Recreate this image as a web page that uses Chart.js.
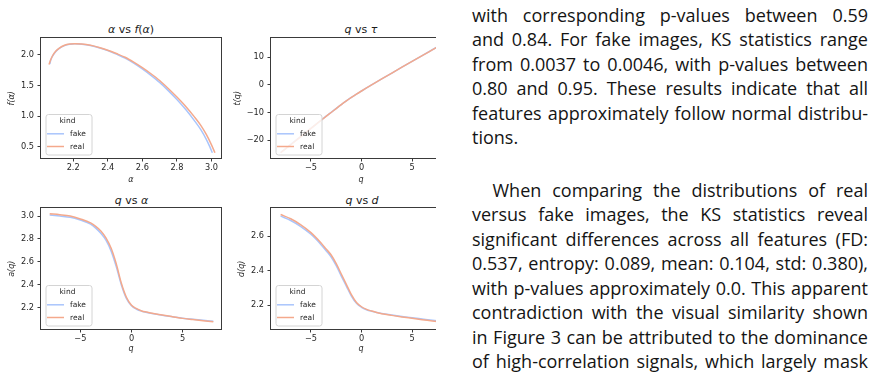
<!DOCTYPE html>
<html><head><meta charset="utf-8">
<script src="https://cdn.jsdelivr.net/npm/chart.js@4.4.0/dist/chart.umd.min.js"></script>
<style>
html,body{margin:0;padding:0;background:#fff;}
body{width:878px;height:377px;position:relative;overflow:hidden;}
#fig{position:absolute;left:0;top:0;width:436px;height:377px;overflow:hidden;}
.pc{position:absolute;}
.pc canvas{display:block;}
.ttl{position:absolute;font-family:"DejaVu Sans";font-size:11px;color:#1a1a1a;white-space:nowrap;transform:translate(-50%,-50%);line-height:1;}
.ttl i{font-style:italic;}
#txt{position:absolute;left:472px;top:0;width:396px;height:377px;font-family:"Open Sans";font-size:18px;color:#141414;}
.ln{position:absolute;left:0;width:396px;height:24.5px;line-height:24.5px;white-space:nowrap;}
.ln.j{display:flex;justify-content:space-between;}
</style>
</head><body>
<div id="fig">
  <div class="ttl" style="left:131px;top:29.3px"><i>α</i> vs <i>f</i>(<i>α</i>)</div>
  <div class="ttl" style="left:361px;top:29.3px"><i>q</i> vs <i>τ</i></div>
  <div class="ttl" style="left:131.5px;top:200px"><i>q</i> vs <i>α</i></div>
  <div class="ttl" style="left:362px;top:200px"><i>q</i> vs <i>d</i></div>
  <div class="pc" id="c1"><canvas id="k1"></canvas></div>
  <div class="pc" id="c2"><canvas id="k2"></canvas></div>
  <div class="pc" id="c3"><canvas id="k3"></canvas></div>
  <div class="pc" id="c4"><canvas id="k4"></canvas></div>
</div>
<div id="txt"></div>
<script>
// ---------- data ----------
const kinds = ['fake', 'real'];
const legendTitle = 'kind';

// Panel 1: alpha vs f(alpha)
const specAlphaFake = [2.065, 2.07, 2.08, 2.10, 2.12, 2.15, 2.18, 2.21, 2.25, 2.30, 2.35, 2.40, 2.45, 2.50, 2.55, 2.60, 2.65, 2.70, 2.75, 2.80, 2.85, 2.90, 2.94, 2.97, 2.99, 3.005];
const specFFake     = [1.85, 1.91, 1.975, 2.055, 2.105, 2.15, 2.172, 2.178, 2.172, 2.15, 2.115, 2.07, 2.01, 1.945, 1.865, 1.77, 1.665, 1.55, 1.415, 1.27, 1.11, 0.93, 0.77, 0.62, 0.50, 0.40];
const specAlphaReal = [2.06, 2.07, 2.08, 2.10, 2.12, 2.15, 2.18, 2.21, 2.25, 2.30, 2.35, 2.40, 2.45, 2.50, 2.55, 2.60, 2.65, 2.70, 2.75, 2.80, 2.85, 2.90, 2.94, 2.97, 3.00, 3.02];
const specFReal     = [1.84, 1.92, 1.98, 2.06, 2.11, 2.155, 2.175, 2.18, 2.175, 2.155, 2.12, 2.075, 2.02, 1.96, 1.88, 1.79, 1.69, 1.58, 1.45, 1.31, 1.16, 0.99, 0.84, 0.70, 0.53, 0.40];

// Panels 2-4: q grid
const qValues   = [-8, -7, -6, -5, -4, -3.5, -3, -2.5, -2, -1.5, -1, -0.5, 0, 0.5, 1, 1.5, 2, 3, 4, 5, 6, 7, 8];
const tauFake   = [-24.4, -21.5, -18.6, -15.7, -12.75, -11.3, -9.9, -8.5, -7.1, -5.78, -4.5, -3.31, -2.19, -1.09, 0.0, 1.08, 2.15, 4.28, 6.4, 8.51, 10.61, 12.7, 14.77];
const tauReal   = [-24.5, -21.6, -18.66, -15.7, -12.8, -11.36, -9.96, -8.54, -7.14, -5.8, -4.52, -3.32, -2.19, -1.09, 0.0, 1.08, 2.15, 4.28, 6.4, 8.5, 10.59, 12.66, 14.73];
const alphaFake = [3.01, 3.0, 2.99, 2.965, 2.93, 2.895, 2.85, 2.79, 2.695, 2.56, 2.40, 2.28, 2.215, 2.185, 2.168, 2.157, 2.148, 2.133, 2.12, 2.107, 2.097, 2.088, 2.08];
const alphaReal = [3.02, 3.012, 3.0, 2.975, 2.94, 2.91, 2.87, 2.81, 2.72, 2.585, 2.415, 2.29, 2.22, 2.19, 2.17, 2.16, 2.15, 2.135, 2.12, 2.105, 2.095, 2.085, 2.075];
const dFake     = [2.715, 2.69, 2.655, 2.61, 2.55, 2.515, 2.478, 2.428, 2.368, 2.31, 2.252, 2.21, 2.187, 2.173, 2.164, 2.157, 2.151, 2.142, 2.134, 2.126, 2.119, 2.112, 2.104];
const dReal     = [2.725, 2.70, 2.665, 2.62, 2.56, 2.525, 2.49, 2.44, 2.38, 2.32, 2.26, 2.215, 2.19, 2.175, 2.165, 2.157, 2.15, 2.14, 2.131, 2.123, 2.115, 2.108, 2.1];

// tick labels
const specXTicks = [2.2, 2.4, 2.6, 2.8, 3.0];
const specYTicks = [0.5, 1.0, 1.5, 2.0];
const qTicks     = [-5, 0, 5];
const tauTicks   = [-20, -10, 0, 10];
const alphaTicks = [2.2, 2.4, 2.6, 2.8, 3.0];
const dTicks     = [2.2, 2.4, 2.6];

// text
const para1 = [
  'with corresponding p-values between 0.59',
  'and 0.84. For fake images, KS statistics range',
  'from 0.0037 to 0.0046, with p-values between',
  '0.80 and 0.95. These results indicate that all',
  'features approximately follow normal distribu-',
  'tions.'
];
const para2 = [
  'When comparing the distributions of real',
  'versus fake images, the KS statistics reveal',
  'significant differences across all features (FD:',
  '0.537, entropy: 0.089, mean: 0.104, std: 0.380),',
  'with p-values approximately 0.0. This apparent',
  'contradiction with the visual similarity shown',
  'in Figure 3 can be attributed to the dominance',
  'of high-correlation signals, which largely mask'
];

// ---------- styles ----------
const COL = { fake: '#a9c5fc', real: '#f4a98c' };
const FONT = 'DejaVu Sans';

function fmt(v, d) { return Number(v).toFixed(d).replace('-', '\u2212'); }

function makePlot(n, c) {
  const yw = 41, xh = 30, padTop = 8, padRight = 6;
  const cl = c.l - yw, ct = c.t - padTop;
  const cw = yw + (c.r - c.l) + padRight, chh = padTop + (c.b - c.t) + xh;
  const div = document.getElementById('c' + n);
  div.style.left = cl + 'px'; div.style.top = ct + 'px';
  div.style.width = cw + 'px'; div.style.height = chh + 'px';
  const cv = document.getElementById('k' + n);
  cv.width = cw; cv.height = chh; cv.style.width = cw + 'px'; cv.style.height = chh + 'px';
  const lh = 8 * 1.2;
  const yTitlePad = c.yTitleX - cl - lh / 2;
  const xTitlePad = (c.b + xh) - c.xTitleY - lh / 2;

  const frame = {
    id: 'frame' + n,
    afterDatasetsDraw(chart) {
      const a = chart.chartArea, ctx = chart.ctx;
      ctx.save();
      ctx.strokeStyle = '#3a3a3a'; ctx.lineWidth = 1;
      const L = Math.round(a.left) - 0.5, R = Math.round(a.right) + 0.5;
      const T = Math.round(a.top) - 0.5, B = Math.round(a.bottom) + 0.5;
      ctx.strokeRect(L, T, R - L, B - T);
      ctx.restore();
    },
    afterDraw(chart) {
      const a = chart.chartArea, ctx = chart.ctx;
      const bw = 46, bh = 40.5;
      const bx = a.left + 4.5, by = a.bottom - 3.5 - bh;
      ctx.save();
      ctx.beginPath();
      ctx.roundRect(bx + 0.5, by + 0.5, bw, bh, 2.5);
      ctx.fillStyle = 'rgba(255,255,255,0.8)'; ctx.fill();
      ctx.strokeStyle = '#d4d4d4'; ctx.lineWidth = 1; ctx.stroke();
      ctx.font = '7.5px "' + FONT + '"';
      ctx.fillStyle = '#262626';
      ctx.textAlign = 'center'; ctx.textBaseline = 'middle';
      ctx.fillText(legendTitle, bx + bw / 2 - 1, by + 7.3);
      ctx.textAlign = 'left';
      kinds.forEach((k, i) => {
        const yy = by + 19.8 + i * 12.7;
        ctx.beginPath(); ctx.moveTo(bx + 1.5, yy); ctx.lineTo(bx + 18.5, yy);
        ctx.strokeStyle = COL[k]; ctx.lineWidth = 1.5; ctx.stroke();
        ctx.fillText(k, bx + 24.5, yy + 0.3);
      });
      ctx.restore();
    }
  };

  // 'order': lower value is drawn on top, so 'real' (second kind) is drawn over 'fake'
  const ds = kinds.map((k, i) => ({
    label: k,
    order: kinds.length - i,
    data: c.xs[i].map((x, j) => ({ x: x, y: c.ys[i][j] })),
    borderColor: COL[k], backgroundColor: COL[k],
    borderWidth: 1.5, pointRadius: 0, fill: false,
    cubicInterpolationMode: 'monotone'
  }));

  const tickFont = { family: FONT, size: 8.2 };
  const titleFont = { family: FONT, size: 8, style: 'italic' };
  const gridCfg = { display: true, drawOnChartArea: false, drawTicks: true, tickLength: 3.5, tickColor: '#3a3a3a', tickWidth: 1 };

  new Chart(cv, {
    type: 'line',
    data: { datasets: ds },
    options: {
      responsive: false, animation: false, devicePixelRatio: 1,
      layout: { padding: { top: padTop, right: padRight, left: 0, bottom: 0 } },
      plugins: { legend: { display: false }, tooltip: { enabled: false }, title: { display: false } },
      scales: {
        x: {
          type: 'linear', min: c.xMin, max: c.xMax,
          afterBuildTicks: s => { s.ticks = c.xTicks.map(v => ({ value: v })); },
          afterFit: s => { s.height = xh; },
          ticks: { callback: v => fmt(v, c.xDec), font: tickFont, color: '#262626', padding: 1.5, maxRotation: 0, autoSkip: false },
          grid: gridCfg, border: { display: false },
          title: { display: true, text: c.xTitle, font: titleFont, color: '#262626', padding: { top: 0, bottom: xTitlePad } }
        },
        y: {
          type: 'linear', min: c.yMin, max: c.yMax,
          afterBuildTicks: s => { s.ticks = c.yTicks.map(v => ({ value: v })); },
          afterFit: s => { s.width = yw; },
          ticks: { callback: v => fmt(v, c.yDec), font: tickFont, color: '#262626', padding: 3.5, autoSkip: false },
          grid: gridCfg, border: { display: false },
          title: { display: true, text: c.yTitle, font: titleFont, color: '#262626', padding: { top: yTitlePad, bottom: 0 } }
        }
      }
    },
    plugins: [frame]
  });
}

makePlot(1, { l: 41, t: 38, r: 221, b: 158, xMin: 2.014, xMax: 3.055, yMin: 0.315, yMax: 2.267,
  xTicks: specXTicks, yTicks: specYTicks, xDec: 1, yDec: 1, xTitle: 'α', yTitle: 'f(α)',
  yTitleX: 11.7, xTitleY: 180, xs: [specAlphaFake, specAlphaReal], ys: [specFFake, specFReal] });
makePlot(2, { l: 271, t: 38, r: 451, b: 158, xMin: -8.95, xMax: 8.85, yMin: -26.4, yMax: 16.8,
  xTicks: qTicks, yTicks: tauTicks, xDec: 0, yDec: 0, xTitle: 'q', yTitle: 't(q)',
  yTitleX: 238.3, xTitleY: 180, xs: [qValues, qValues], ys: [tauFake, tauReal] });
makePlot(3, { l: 41, t: 208, r: 221, b: 329, xMin: -8.85, xMax: 8.75, yMin: 2.012, yMax: 3.067,
  xTicks: qTicks, yTicks: alphaTicks, xDec: 0, yDec: 1, xTitle: 'q', yTitle: 'a(q)',
  yTitleX: 11.7, xTitleY: 349.3, xs: [qValues, qValues], ys: [alphaFake, alphaReal] });
makePlot(4, { l: 271, t: 208, r: 451, b: 329, xMin: -8.95, xMax: 8.85, yMin: 2.061, yMax: 2.76,
  xTicks: qTicks, yTicks: dTicks, xDec: 0, yDec: 1, xTitle: 'q', yTitle: 'd(q)',
  yTitleX: 241.7, xTitleY: 349.3, xs: [qValues, qValues], ys: [dFake, dReal] });

// ---------- text ----------
const txt = document.getElementById('txt');
function addPara(lines, top0, indent, lastJustify) {
  lines.forEach((s, i) => {
    const d = document.createElement('div');
    const isLast = i === lines.length - 1 && !lastJustify;
    d.className = 'ln' + (isLast ? '' : ' j');
    d.style.top = (top0 + i * 24.5) + 'px';
    if (i === 0 && indent) { d.style.left = indent + 'px'; d.style.width = (396 - indent) + 'px'; }
    if (isLast) { d.textContent = s; }
    else {
      s.split(' ').forEach(w => { const sp = document.createElement('span'); sp.textContent = w; d.appendChild(sp); });
    }
    txt.appendChild(d);
  });
}
addPara(para1, 2.8, 0, false);
addPara(para2, 177.8, 20.5, true);
</script>
</body></html>
